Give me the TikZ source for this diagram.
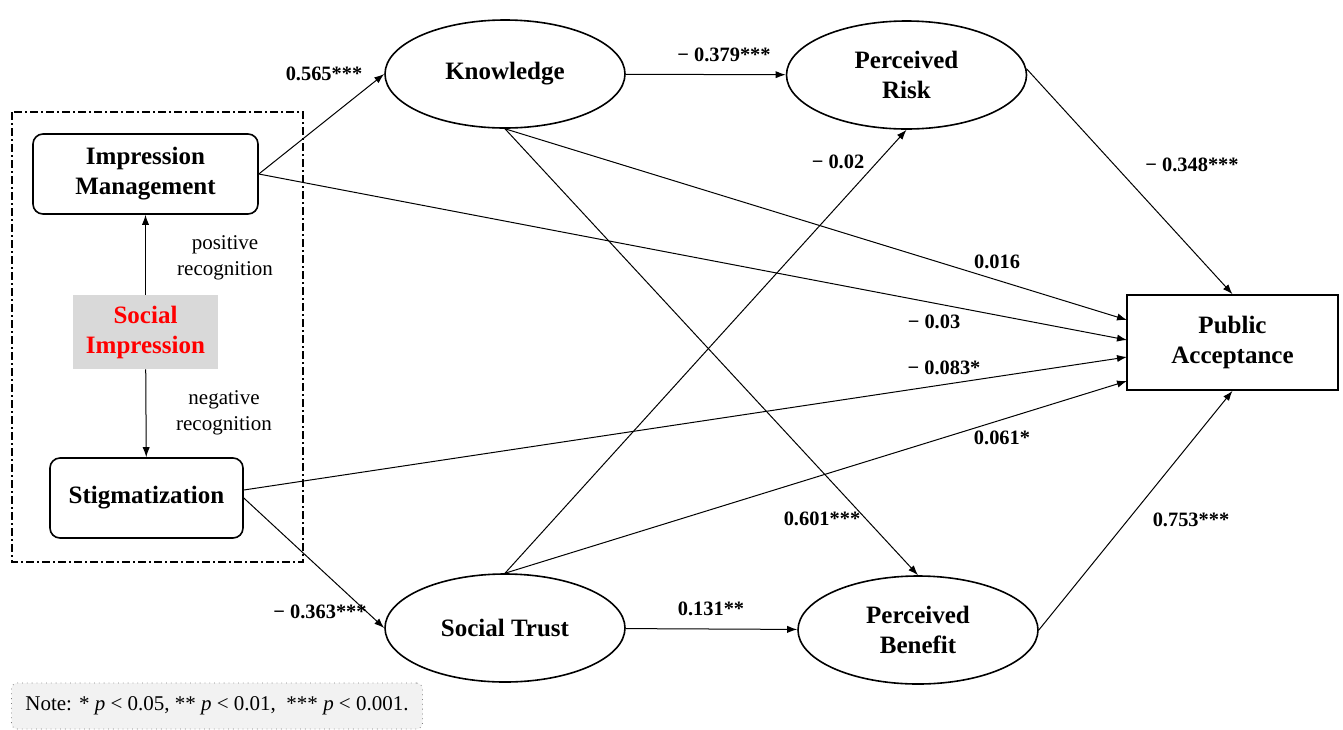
\documentclass[tikz,border=0pt]{standalone}
\usepackage{fontspec}
\setmainfont{Liberation Serif}
\usetikzlibrary{arrows.meta,shapes.geometric}
\tikzset{
	latent/.style={ellipse, draw, line width=0.8pt, minimum width=120pt, minimum height=54pt, inner sep=0pt, align=center, font=\fontsize{12.5}{15}\selectfont\bfseries},
	obsbox/.style={rectangle, rounded corners=5pt, draw, line width=0.8pt, inner sep=0pt, align=center, font=\fontsize{12.5}{15}\selectfont\bfseries},
	path/.style={line width=0.5pt, -{Latex[length=5pt,width=3.6pt]}},
	coef/.style={font=\fontsize{10.2}{12}\selectfont\bfseries, inner sep=1pt},
	remark/.style={font=\fontsize{10.5}{13}\selectfont, align=center, inner sep=1pt}
}
\definecolor{sigray}{RGB}{217,217,217}
\definecolor{notegray}{RGB}{242,242,242}
\begin{document}
\begin{tikzpicture}[x=0.5pt, y=-0.5pt]
		\useasboundingbox (0,0) rectangle (1343,729);
		\draw[line width=0.8pt, dash pattern=on 4pt off 1.5pt on 1pt off 1.5pt] (12,112) rectangle (303,562);
		\node[obsbox, minimum width=112.5pt, minimum height=40pt] (im) at (145.5,174) {Impression\\Management};
		\node[rectangle, fill=sigray, minimum width=72.5pt, minimum height=37pt, align=center, inner sep=0pt, text=red, font=\fontsize{12.5}{15}\selectfont\bfseries] (si) at (145.5,332) {Social\\Impression};
		\node[obsbox, minimum width=96.5pt, minimum height=40pt] (stig) at (146.5,498) {Stigmatization};
		\node[latent] (know) at (505,74) {Knowledge};
		\node[latent] (risk) at (906.5,75) {Perceived\\Risk};
		\node[latent] (trust) at (505,628) {Social Trust};
		\node[latent] (benefit) at (918,630) {Perceived\\Benefit};
		\node[obsbox, rounded corners=0pt, minimum width=105.5pt, minimum height=47.5pt] (pa) at (1232.5,342.5) {Public\\Acceptance};
		\node[draw=gray, fill=notegray, dotted, rounded corners=3pt, minimum width=205.5pt, minimum height=23pt, inner sep=0pt, font=\fontsize{10.5}{12}\selectfont] (note) at (217,706) {Note: * \textit{p} < 0.05, ** \textit{p} < 0.01, \ *** \textit{p} < 0.001.};
		
		\coordinate (pa1) at (1127,320);
		\coordinate (pa2) at (1127,340);
		\coordinate (pa3) at (1127,357);
		\coordinate (pa4) at (1127,381);
		
		\draw[path] (si) -- (im);
		\draw[path] (si) -- (stig);
		\draw[path] (im.east) -- (know.west);
		\draw[path] (im.east) -- (pa2);
		\draw[path] (stig.east) ++(0,-8) -- (pa3);
		\draw[path] (stig.east) -- (trust.west);
		\draw[path] (know) -- (risk);
		\draw[path] (know.south) -- (pa1);
		\draw[path] (know.south) -- (benefit.north);
		\draw[path] (trust.north) -- (risk.south);
		\draw[path] (trust.north) -- (pa4);
		\draw[path] (trust) -- (benefit);
		\draw[path] (risk.3) -- (pa.north);
		\draw[path] (benefit.east) -- (pa.south);
		
		\node[remark] (pos) at (225,258) {positive\\recognition};
		\node[remark] (neg) at (224,413) {negative\\recognition};
		\node[coef] (c1) at (324,74) {0.565***};
		\node[coef] (c2) at (724,55) {− 0.379***};
		\node[coef] (c3) at (838,162) {− 0.02};
		\node[coef] (c4) at (1192,165) {− 0.348***};
		\node[coef] (c5) at (997,262) {0.016};
		\node[coef] (c6) at (934,322) {− 0.03};
		\node[coef] (c7) at (944,368) {− 0.083*};
		\node[coef] (c8) at (1002,438) {0.061*};
		\node[coef] (c9) at (822,519) {0.601***};
		\node[coef] (c10) at (1191,520) {0.753***};
		\node[coef] (c11) at (320,612) {− 0.363***};
		\node[coef] (c12) at (711,609) {0.131**};
	\end{tikzpicture}
\end{document}
